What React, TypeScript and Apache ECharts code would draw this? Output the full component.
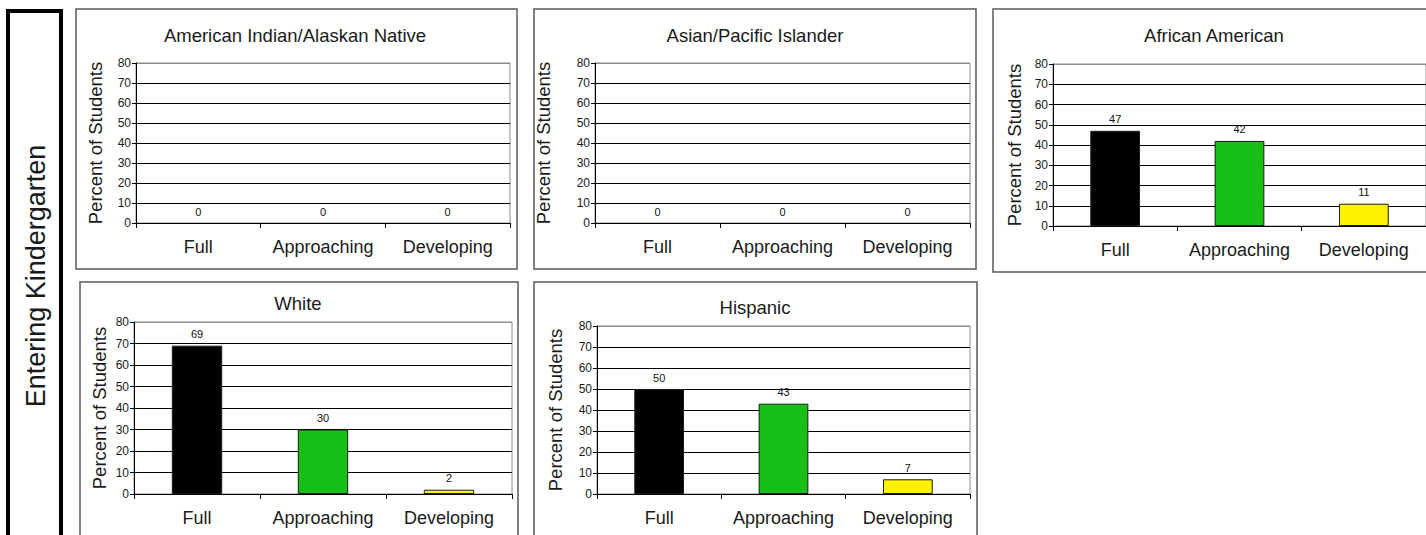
import React, { useEffect, useRef } from "react";
import * as echarts from "echarts";

const categories = ["Full", "Approaching", "Developing"];
const panelTitles = [
  "American Indian/Alaskan Native",
  "Asian/Pacific Islander",
  "African American",
  "White",
  "Hispanic",
];
const americanIndianValues = [0, 0, 0];
const asianValues = [0, 0, 0];
const africanAmericanValues = [47, 42, 11];
const whiteValues = [69, 30, 2];
const hispanicValues = [50, 43, 7];
const seriesValues = [
  americanIndianValues,
  asianValues,
  africanAmericanValues,
  whiteValues,
  hispanicValues,
];
const barColors = ["#000000", "#17bf17", "#fff200"];
const yAxisName = "Percent of Students";
const sideLabel = "Entering Kindergarten";
const yMin = 0;
const yMax = 80;
const yInterval = 10;

// layout (positions only)
const grids = [
  { left: 136, top: 63, width: 374, height: 160, gap: 31 },
  { left: 595, top: 63, width: 375, height: 160, gap: 42 },
  { left: 1053, top: 64, width: 375, height: 162, gap: 29 },
  { left: 134, top: 322, width: 378, height: 172, gap: 25 },
  { left: 597, top: 326, width: 373, height: 168, gap: 32 },
];
const frames = [
  [76, 9, 517, 269],
  [534, 9, 976, 269],
  [993, 9, 1434, 272],
  [80, 282, 518, 545],
  [534, 282, 977, 545],
];
const titlePos = [
  [295, 26],
  [755, 26],
  [1214, 26],
  [298, 294],
  [755, 298],
];

const FONT = "'Liberation Sans', Arial, Helvetica, sans-serif";
const TXT = "#1a1a1a";

export default function App() {
  const ref = useRef<HTMLDivElement>(null);
  useEffect(() => {
    if (!ref.current) return;
    const chart = echarts.init(ref.current, undefined, { renderer: "svg" });
    const splitColors = ["#000", "#000", "#000", "#000", "#000", "#000", "#000", "#000", "#8c8c8c"];
    const option: any = {
      animation: false,
      backgroundColor: "#ffffff",
      textStyle: { fontFamily: FONT },
      title: panelTitles.map((t, i) => ({
        text: t,
        left: titlePos[i][0],
        top: titlePos[i][1],
        textAlign: "center",
        padding: 0,
        textStyle: { fontFamily: FONT, fontSize: 18.5, fontWeight: "normal", color: TXT },
      })),
      grid: grids.map((g) => ({
        left: g.left,
        top: g.top,
        width: g.width,
        height: g.height,
        show: true,
        borderColor: "#8c8c8c",
        borderWidth: 1,
        containLabel: false,
      })),
      xAxis: grids.map((_, i) => ({
        type: "category",
        gridIndex: i,
        data: categories,
        axisLine: { lineStyle: { color: "#000", width: 1 } },
        axisTick: { show: true, length: 5, lineStyle: { color: "#000" } },
        axisLabel: { fontFamily: FONT, fontSize: 18, color: TXT, margin: 15, interval: 0 },
        splitLine: { show: false },
      })),
      yAxis: grids.map((g, i) => ({
        type: "value",
        gridIndex: i,
        min: yMin,
        max: yMax,
        interval: yInterval,
        name: yAxisName,
        nameLocation: "middle",
        nameRotate: 90,
        nameGap: g.gap,
        nameTextStyle: { fontFamily: FONT, fontSize: 18.5, color: TXT },
        axisLine: { show: true, lineStyle: { color: "#000", width: 1 } },
        axisTick: { show: true, length: 4, lineStyle: { color: "#000" } },
        axisLabel: { fontFamily: FONT, fontSize: 12, color: TXT, margin: 5 },
        splitLine: { show: true, lineStyle: { color: splitColors, width: 1 } },
      })),
      series: seriesValues.map((vals, i) => ({
        type: "bar",
        xAxisIndex: i,
        yAxisIndex: i,
        barWidth: "40%",
        data: vals.map((v, j) => ({
          value: v,
          itemStyle: {
            color: barColors[j],
            borderColor: "#1a1a1a",
            borderWidth: v === 0 ? 0 : 1,
          },
        })),
        label: {
          show: true,
          position: "top",
          distance: 6,
          fontFamily: FONT,
          fontSize: 11,
          color: "#111",
        },
      })),
      graphic: [
        ...frames.map((f) => ({
          type: "rect",
          shape: { x: f[0], y: f[1], width: f[2] - f[0], height: f[3] - f[1] },
          style: { fill: "none", stroke: "#5a5a5a", lineWidth: 1.5 },
          silent: true,
          z: 10,
        })),
        { type: "rect", shape: { x: 6, y: 9, width: 4, height: 540 }, style: { fill: "#000" } },
        { type: "rect", shape: { x: 59, y: 9, width: 4, height: 540 }, style: { fill: "#000" } },
        { type: "rect", shape: { x: 6, y: 9, width: 57, height: 4 }, style: { fill: "#000" } },
        {
          type: "text",
          x: 36,
          y: 276,
          rotation: Math.PI / 2,
          style: {
            text: sideLabel,
            fontFamily: FONT,
            fontSize: 27,
            fill: TXT,
            align: "center",
            verticalAlign: "middle",
            textAlign: "center",
            textVerticalAlign: "middle",
          },
        },
      ],
    };
    chart.setOption(option);
    return () => chart.dispose();
  }, []);
  return (
    <div
      ref={ref}
      style={{ position: "fixed", left: 0, top: 0, width: 1426, height: 535, background: "#fff" }}
    />
  );
}
